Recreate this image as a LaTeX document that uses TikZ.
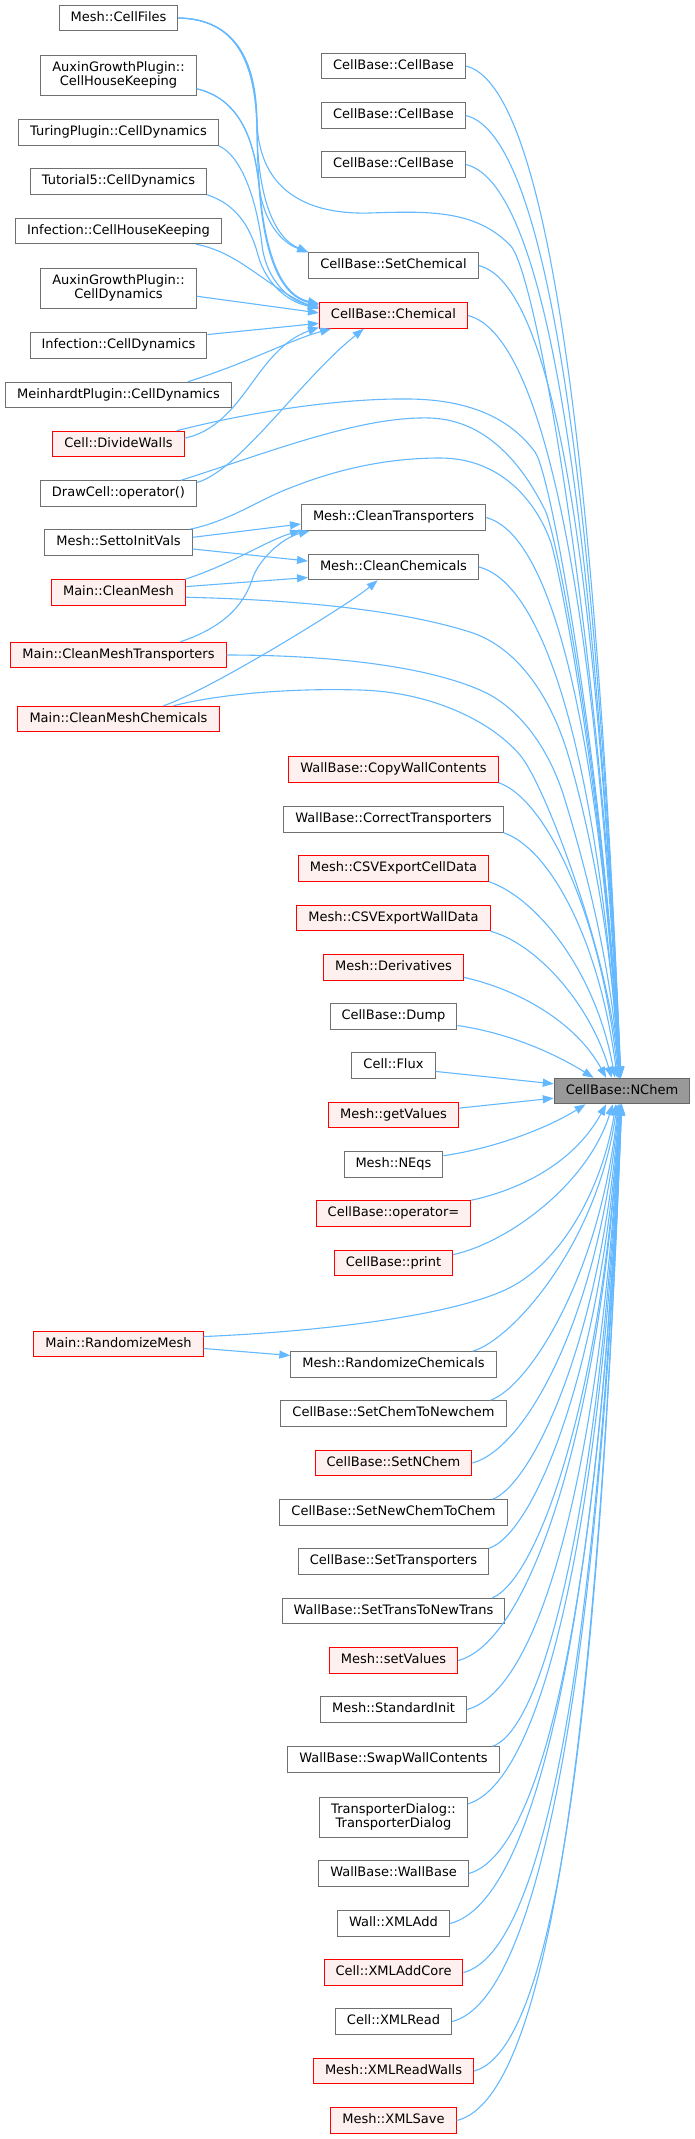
\documentclass[tikz,border=0pt]{standalone}
\usepackage{fontspec}
\setmainfont{DejaVu Sans}
\usepackage{tikz}
\usetikzlibrary{arrows.meta,calc}
\usepackage{xcolor}

\definecolor{edgeblue}{HTML}{63B8FF}
\definecolor{nodegray}{HTML}{707070}
\definecolor{truncfill}{HTML}{FFF0F0}
\definecolor{rootfill}{HTML}{999999}
\definecolor{rootdraw}{HTML}{666666}

\begin{document}
\begin{tikzpicture}[
    x=1pt, y=-1pt,
    fnode/.style={draw=nodegray, fill=white, line width=1pt, rectangle, font=\fontsize{13}{14.5}\selectfont, inner xsep=11.5pt, inner ysep=0pt, minimum height=25.5pt, text height=9.5pt, text depth=3pt},
    trunc/.style={fnode, draw=red, fill=truncfill},
    root/.style={fnode, draw=rootdraw, fill=rootfill},
    twoline/.style={fnode, align=center, text height=, text depth=, minimum height=40pt},
    call/.style={-{Triangle[length=11pt,width=8pt]}, draw=edgeblue, line width=1.1pt}
]
  \useasboundingbox (0,0) rectangle (695,2139);

  % Callers, left column
  \node (cellfiles) [fnode] at (118.5,18) {Mesh::CellFiles};
  \node (auxhouse) [twoline] at (118.5,75) {AuxinGrowthPlugin::\\CellHouseKeeping};
  \node (turing) [fnode] at (118.5,132.5) {TuringPlugin::CellDynamics};
  \node (tutorial) [fnode] at (118.5,181.5) {Tutorial5::CellDynamics};
  \node (infhouse) [fnode] at (118.5,231) {Infection::CellHouseKeeping};
  \node (auxdyn) [twoline] at (118.5,288) {AuxinGrowthPlugin::\\CellDynamics};
  \node (infdyn) [fnode] at (118.5,345.5) {Infection::CellDynamics};
  \node (meinhardt) [fnode] at (118.5,395) {MeinhardtPlugin::CellDynamics};
  \node (dividewalls) [trunc] at (118.5,444) {Cell::DivideWalls};
  \node (drawcell) [fnode] at (118.5,493.5) {DrawCell::operator()};
  \node (settoinit) [fnode] at (118.5,542.5) {Mesh::SettoInitVals};
  \node (cleanmesh) [trunc] at (118.5,592.5) {Main::CleanMesh};
  \node (cleanmeshtr) [trunc] at (118.5,655) {Main::CleanMeshTransporters};
  \node (cleanmeshch) [trunc] at (118.5,719) {Main::CleanMeshChemicals};
  \node (randmesh) [trunc] at (118.5,1344) {Main::RandomizeMesh};

  % Callers, middle column
  \node (cbaseA) [fnode] at (393.5,66) {CellBase::CellBase};
  \node (cbaseB) [fnode] at (393.5,115.5) {CellBase::CellBase};
  \node (cbaseC) [fnode] at (393.5,164.5) {CellBase::CellBase};
  \node (setchem) [fnode] at (393.5,265.5) {CellBase::SetChemical};
  \node (chem) [trunc] at (393.5,315.5) {CellBase::Chemical};
  \node (cleantr) [fnode] at (393.5,517.5) {Mesh::CleanTransporters};
  \node (cleanch) [fnode] at (393.5,567) {Mesh::CleanChemicals};
  \node (copywall) [trunc] at (393.5,769.5) {WallBase::CopyWallContents};
  \node (corrtr) [fnode] at (393.5,819.5) {WallBase::CorrectTransporters};
  \node (csvcell) [trunc] at (393.5,868.5) {Mesh::CSVExportCellData};
  \node (csvwall) [trunc] at (393.5,918) {Mesh::CSVExportWallData};
  \node (deriv) [trunc] at (393.5,967.5) {Mesh::Derivatives};
  \node (dump) [fnode] at (393.5,1016.5) {CellBase::Dump};
  \node (flux) [fnode] at (393.5,1065.5) {Cell::Flux};
  \node (getvalues) [trunc] at (393.5,1115) {Mesh::getValues};
  \node (neqs) [fnode] at (393.5,1164.5) {Mesh::NEqs};
  \node (opassign) [trunc] at (393.5,1213.5) {CellBase::operator=};
  \node (cbprint) [trunc] at (393.5,1263) {CellBase::print};
  \node (randchem) [fnode] at (393.5,1364.5) {Mesh::RandomizeChemicals};
  \node (chemtonew) [fnode] at (393.5,1413.5) {CellBase::SetChemToNewchem};
  \node (setnchem) [trunc] at (393.5,1463) {CellBase::SetNChem};
  \node (newtochem) [fnode] at (393.5,1512.5) {CellBase::SetNewChemToChem};
  \node (settransp) [fnode] at (393.5,1561.5) {CellBase::SetTransporters};
  \node (transtonew) [fnode] at (393.5,1611) {WallBase::SetTransToNewTrans};
  \node (setvalues) [trunc] at (393.5,1660.5) {Mesh::setValues};
  \node (stdinit) [fnode] at (393.5,1709.5) {Mesh::StandardInit};
  \node (swapwall) [fnode] at (393.5,1759.5) {WallBase::SwapWallContents};
  \node (transdlg) [twoline] at (393.5,1817) {TransporterDialog::\\TransporterDialog};
  \node (wallbase) [fnode] at (393.5,1873.5) {WallBase::WallBase};
  \node (xmladd) [fnode] at (393.5,1923.5) {Wall::XMLAdd};
  \node (xmladdcore) [trunc] at (393.5,1972.5) {Cell::XMLAddCore};
  \node (xmlread) [fnode] at (393.5,2021.5) {Cell::XMLRead};
  \node (xmlreadwalls) [trunc] at (393.5,2071) {Mesh::XMLReadWalls};
  \node (xmlsave) [trunc] at (393.5,2120.5) {Mesh::XMLSave};

  % Called function
  \node (nchem) [root] at (622,1091) {CellBase::NChem};

  % Arrows into SetChemical and Chemical
  \draw [call] (cellfiles.east) .. controls (235,19) and (256,60) .. (257,130) .. controls (258,200) and (275,238) .. (setchem.north west);
  \draw [call] (auxhouse.-10) .. controls (245,100) and (255,150) .. (259,185) .. controls (263,220) and (280,242) .. (setchem.north west);
  \draw [call] (cellfiles.east) .. controls (235,19) and (256,60) .. (257,130) .. controls (258,250) and (280,295) .. (chem.171);
  \draw [call] (auxhouse.-10) .. controls (245,100) and (255,150) .. (259,185) .. controls (264,260) and (282,296) .. (chem.172);
  \draw [call] (turing.south east) .. controls (245,158) and (258,210) .. (262,245) .. controls (266,280) and (290,302) .. (chem.173);
  \draw [call] (tutorial.south east) .. controls (235,204) and (250,225) .. (258,255) .. controls (266,285) and (290,303) .. (chem.174);
  \draw [call] ($(infhouse.south east)+(-26,0)$) .. controls (240,252) and (270,290) .. (chem.175);
  \draw [call] (auxdyn.-6) -- (chem.178);
  \draw [call] (infdyn.7) -- (chem.186);
  \draw [call] ($(meinhardt.north east)+(-44,0)$) .. controls (250,362) and (290,340) .. (chem.192);
  \draw [call] (dividewalls.5) .. controls (245,425) and (255,350) .. (chem.189);
  \draw [call] (drawcell.8) .. controls (240,470) and (300,380) .. (chem.204);

  % Arrows into CleanTransporters, CleanChemicals, RandomizeChemicals
  \draw [call] (settoinit.4) -- (cleantr.184);
  \draw [call] ($(cleanmesh.north east)+(-1,0)$) .. controls (230,565) and (268,540) .. (cleantr.188);
  \draw [call] ($(cleanmeshtr.north)+(62,0)$) .. controls (230,625) and (245,600) .. (252,580) .. controls (258,560) and (282,538) .. (cleantr.189);
  \draw [call] (settoinit.-5) -- (cleanch.176);
  \draw [call] (cleanmesh.5) -- (cleanch.187);
  \draw [call] ($(cleanmeshch.north)+(45,0)$) .. controls (210,690) and (348,605) .. (cleanch.220);
  \draw [call] (randmesh.-3) -- (randchem.175);

  % Arrows from the left column into NChem
  \draw [call] (cellfiles.east) .. controls (235,19) and (256,60) .. (257,120) .. controls (258,185) and (300,215) .. (370,213) .. controls (430,211) and (475,210) .. (510,245) .. controls (540,275) and (606,700) .. (nchem.97);
  \draw [call] ($(dividewalls.north east)+(-8,0)$) .. controls (250,412) and (340,398) .. (410,399) .. controls (480,400) and (515,425) .. (535,452) .. controls (552,475) and (605,780) .. (nchem.99);
  \draw [call] ($(drawcell.north east)+(-16,0)$) .. controls (270,452) and (360,416) .. (430,418) .. controls (490,420) and (525,470) .. (545,510) .. controls (558,536) and (606,800) .. (nchem.99);
  \draw [call] ($(settoinit.north east)+(-3,0)$) .. controls (230,521) and (258,500) .. (290,488) .. controls (340,468) and (390,458) .. (440,458) .. controls (500,458) and (535,500) .. (550,540) .. controls (560,566) and (607,820) .. (nchem.100);
  \draw [call] (cleanmesh.-4) .. controls (300,600) and (400,610) .. (470,632) .. controls (520,648) and (550,700) .. (565,745) .. controls (575,775) and (610,900) .. (nchem.102);
  \draw [call] (cleanmeshtr.east) .. controls (320,655) and (420,664) .. (480,690) .. controls (520,707) and (550,750) .. (565,800) .. controls (574,830) and (611,950) .. (nchem.103);
  \draw [call] ($(cleanmeshch.north)+(55,0)$) .. controls (220,694) and (290,688) .. (360,690) .. controls (430,692) and (490,720) .. (520,755) .. controls (545,784) and (611,960) .. (nchem.104);
  \draw [call] (randmesh.5) .. controls (330,1331) and (450,1315) .. (505,1290) .. controls (560,1265) and (602,1190) .. (nchem.245);

  % Arrows from the middle column into NChem, above
  \draw [call] (cbaseA.east) .. controls +(85,20) and +(-25,-600) .. (nchem.95);
  \draw [call] (cbaseB.east) .. controls +(85,20) and +(-25,-570) .. (nchem.95);
  \draw [call] (cbaseC.east) .. controls +(85,20) and +(-25,-540) .. (nchem.96);
  \draw [call] (setchem.east) .. controls +(80,20) and +(-22,-480) .. (nchem.97);
  \draw [call] (chem.east) .. controls +(80,20) and +(-22,-450) .. (nchem.98);
  \draw [call] (cleantr.east) .. controls +(70,18) and +(-20,-330) .. (nchem.100);
  \draw [call] (cleanch.east) .. controls +(70,18) and +(-20,-300) .. (nchem.101);
  \draw [call] (copywall.south east) .. controls +(45,15) and +(-18,-170) .. (nchem.106);
  \draw [call] (corrtr.south east) .. controls +(45,15) and +(-18,-140) .. (nchem.110);
  \draw [call] (csvcell.south east) .. controls +(45,15) and +(-20,-110) .. (nchem.118);
  \draw [call] (csvwall.south east) .. controls +(45,12) and +(-22,-75) .. (nchem.128);
  \draw [call] (deriv.-8) .. controls +(55,12) and +(-30,-55) .. (nchem.140);
  \draw [call] (dump.-8) .. controls +(55,8) and +(-35,-22) .. (nchem.155);
  \draw [call] (flux.-8) -- (nchem.174);
  \draw [call] (getvalues.6) -- (nchem.186);

  % Arrows from the middle column into NChem, below
  \draw [call] (neqs.10) .. controls +(55,-8) and +(-35,22) .. (nchem.200);
  \draw [call] (opassign.north east) .. controls +(55,-12) and +(-30,55) .. (nchem.220);
  \draw [call] (cbprint.8) .. controls +(55,-12) and +(-25,80) .. (nchem.235);
  \draw [call] ($(randchem.north east)+(-24,0)$) .. controls +(40,-12) and +(-20,140) .. (nchem.250);
  \draw [call] ($(chemtonew.north east)+(-16,0)$) .. controls +(40,-15) and +(-18,170) .. (nchem.254);
  \draw [call] (setnchem.east) .. controls +(55,-15) and +(-20,210) .. (nchem.257);
  \draw [call] ($(newtochem.north east)+(-15,0)$) .. controls +(40,-15) and +(-18,235) .. (nchem.259);
  \draw [call] (settransp.north east) .. controls +(45,-15) and +(-18,265) .. (nchem.261);
  \draw [call] ($(transtonew.north east)+(-13,0)$) .. controls +(45,-18) and +(-18,295) .. (nchem.262);
  \draw [call] (setvalues.east) .. controls +(70,-18) and +(-20,330) .. (nchem.263);
  \draw [call] (stdinit.east) .. controls +(75,-20) and +(-20,360) .. (nchem.264);
  \draw [call] ($(swapwall.north east)+(-7,0)$) .. controls +(55,-20) and +(-20,380) .. (nchem.265);
  \draw [call] (transdlg.10) .. controls +(75,-22) and +(-20,420) .. (nchem.266);
  \draw [call] (wallbase.east) .. controls +(80,-22) and +(-20,460) .. (nchem.266);
  \draw [call] (xmladd.east) .. controls +(90,-22) and +(-22,490) .. (nchem.267);
  \draw [call] (xmladdcore.east) .. controls +(85,-22) and +(-22,520) .. (nchem.267);
  \draw [call] (xmlread.east) .. controls +(90,-22) and +(-22,550) .. (nchem.268);
  \draw [call] (xmlreadwalls.east) .. controls +(85,-22) and +(-22,580) .. (nchem.268);
  \draw [call] (xmlsave.east) .. controls +(95,-22) and +(-24,610) .. (nchem.269);

\end{tikzpicture}
\end{document}
